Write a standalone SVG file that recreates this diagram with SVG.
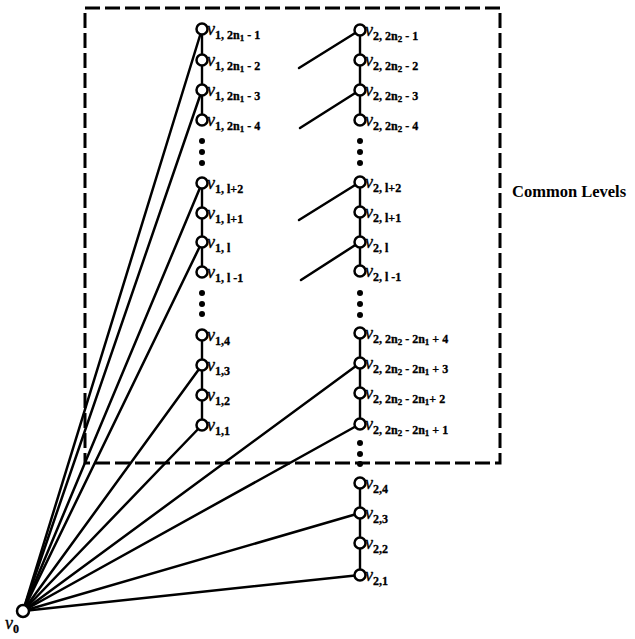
<svg xmlns="http://www.w3.org/2000/svg" width="635" height="639" viewBox="0 0 635 639">
<style>
.e{stroke:#000;stroke-width:2.5;fill:none;stroke-linecap:round}
.col{stroke:#000;stroke-width:2.4;fill:none}
.box{stroke:#000;stroke-width:3;fill:none;stroke-dasharray:15 5}
.n{fill:#fff;stroke:#000;stroke-width:2.5}
.d{fill:#000}
.v{font-family:"Liberation Serif",serif;font-style:italic;font-size:18px;fill:#000;stroke:#000;stroke-width:0.3}
.s{font-style:normal;font-weight:bold;font-size:12px}
.ss{font-style:normal;font-weight:bold;font-size:9px}
.t{font-family:"Liberation Serif",serif;font-weight:bold;font-size:16.5px;fill:#000}
</style>
<rect width="635" height="639" fill="#fff"/>
<g id="box"><rect class="box" x="85" y="8" width="415" height="455"/></g>
<text class="t" x="512" y="197">Common Levels</text>
<g id="connectors">
<line class="e" x1="23" y1="611" x2="202" y2="29"/>
<line class="e" x1="23" y1="611" x2="202" y2="90"/>
<line class="e" x1="23" y1="611" x2="202" y2="183"/>
<line class="e" x1="23" y1="611" x2="202" y2="242"/>
<line class="e" x1="23" y1="611" x2="202" y2="365"/>
<line class="e" x1="23" y1="611" x2="202" y2="425"/>
<line class="e" x1="23" y1="611" x2="360" y2="363"/>
<line class="e" x1="23" y1="611" x2="360" y2="424"/>
<line class="e" x1="23" y1="611" x2="360" y2="513"/>
<line class="e" x1="23" y1="611" x2="360" y2="575"/>
<line class="e" x1="299" y1="68" x2="360" y2="30"/>
<line class="e" x1="300" y1="128" x2="360" y2="90"/>
<line class="e" x1="299" y1="220" x2="360" y2="182"/>
<line class="e" x1="301" y1="280" x2="360" y2="242"/>
<line class="col" x1="202" y1="29" x2="202" y2="120"/>
<line class="col" x1="202" y1="183" x2="202" y2="272"/>
<line class="col" x1="202" y1="335" x2="202" y2="425"/>
<line class="col" x1="360" y1="30" x2="360" y2="120"/>
<line class="col" x1="360" y1="182" x2="360" y2="271"/>
<line class="col" x1="360" y1="333" x2="360" y2="424"/>
<line class="col" x1="360" y1="483" x2="360" y2="575"/>
</g>
<g id="dots">
<circle class="d" cx="202" cy="141" r="3"/><circle class="d" cx="202" cy="152" r="3"/><circle class="d" cx="202" cy="163" r="3"/>
<circle class="d" cx="202" cy="293" r="3"/><circle class="d" cx="202" cy="304" r="3"/><circle class="d" cx="202" cy="314" r="3"/>
<circle class="d" cx="360" cy="141" r="3"/><circle class="d" cx="360" cy="152" r="3"/><circle class="d" cx="360" cy="163" r="3"/>
<circle class="d" cx="360" cy="293" r="3"/><circle class="d" cx="360" cy="304" r="3"/><circle class="d" cx="360" cy="315" r="3"/>
<circle class="d" cx="360" cy="443" r="3"/><circle class="d" cx="360" cy="454" r="3"/><circle class="d" cx="360" cy="464" r="3"/>
</g>
<g id="v0"><circle class="n" cx="23" cy="611" r="6"/><text class="v" x="5" y="629">v<tspan class="s" dy="4">0</tspan></text></g>
<g id="v1_2n1-1"><circle class="n" cx="202" cy="29" r="5.5"/><text class="v" x="207" y="35">v<tspan class="s" dy="4">1, 2n</tspan><tspan class="ss" dy="2">1</tspan><tspan class="s" dy="-2"> - 1</tspan></text></g>
<g id="v1_2n1-2"><circle class="n" cx="202" cy="60" r="5.5"/><text class="v" x="207" y="66">v<tspan class="s" dy="4">1, 2n</tspan><tspan class="ss" dy="2">1</tspan><tspan class="s" dy="-2"> - 2</tspan></text></g>
<g id="v1_2n1-3"><circle class="n" cx="202" cy="90" r="5.5"/><text class="v" x="207" y="96">v<tspan class="s" dy="4">1, 2n</tspan><tspan class="ss" dy="2">1</tspan><tspan class="s" dy="-2"> - 3</tspan></text></g>
<g id="v1_2n1-4"><circle class="n" cx="202" cy="120" r="5.5"/><text class="v" x="207" y="126">v<tspan class="s" dy="4">1, 2n</tspan><tspan class="ss" dy="2">1</tspan><tspan class="s" dy="-2"> - 4</tspan></text></g>
<g id="v1_l+2"><circle class="n" cx="202" cy="183" r="5.5"/><text class="v" x="207" y="189">v<tspan class="s" dy="4">1, l+2</tspan></text></g>
<g id="v1_l+1"><circle class="n" cx="202" cy="213" r="5.5"/><text class="v" x="207" y="219">v<tspan class="s" dy="4">1, l+1</tspan></text></g>
<g id="v1_l"><circle class="n" cx="202" cy="242" r="5.5"/><text class="v" x="207" y="248">v<tspan class="s" dy="4">1, l</tspan></text></g>
<g id="v1_l-1"><circle class="n" cx="202" cy="272" r="5.5"/><text class="v" x="207" y="278">v<tspan class="s" dy="4">1, l -1</tspan></text></g>
<g id="v1_4"><circle class="n" cx="202" cy="335" r="5.5"/><text class="v" x="207" y="341">v<tspan class="s" dy="4">1,4</tspan></text></g>
<g id="v1_3"><circle class="n" cx="202" cy="365" r="5.5"/><text class="v" x="207" y="371">v<tspan class="s" dy="4">1,3</tspan></text></g>
<g id="v1_2"><circle class="n" cx="202" cy="395" r="5.5"/><text class="v" x="207" y="401">v<tspan class="s" dy="4">1,2</tspan></text></g>
<g id="v1_1"><circle class="n" cx="202" cy="425" r="5.5"/><text class="v" x="207" y="431">v<tspan class="s" dy="4">1,1</tspan></text></g>
<g id="v2_2n2-1"><circle class="n" cx="360" cy="30" r="5.5"/><text class="v" x="365" y="36">v<tspan class="s" dy="4">2, 2n</tspan><tspan class="ss" dy="2">2</tspan><tspan class="s" dy="-2"> - 1</tspan></text></g>
<g id="v2_2n2-2"><circle class="n" cx="360" cy="60" r="5.5"/><text class="v" x="365" y="66">v<tspan class="s" dy="4">2, 2n</tspan><tspan class="ss" dy="2">2</tspan><tspan class="s" dy="-2"> - 2</tspan></text></g>
<g id="v2_2n2-3"><circle class="n" cx="360" cy="90" r="5.5"/><text class="v" x="365" y="96">v<tspan class="s" dy="4">2, 2n</tspan><tspan class="ss" dy="2">2</tspan><tspan class="s" dy="-2"> - 3</tspan></text></g>
<g id="v2_2n2-4"><circle class="n" cx="360" cy="120" r="5.5"/><text class="v" x="365" y="126">v<tspan class="s" dy="4">2, 2n</tspan><tspan class="ss" dy="2">2</tspan><tspan class="s" dy="-2"> - 4</tspan></text></g>
<g id="v2_l+2"><circle class="n" cx="360" cy="182" r="5.5"/><text class="v" x="365" y="188">v<tspan class="s" dy="4">2, l+2</tspan></text></g>
<g id="v2_l+1"><circle class="n" cx="360" cy="212" r="5.5"/><text class="v" x="365" y="218">v<tspan class="s" dy="4">2, l+1</tspan></text></g>
<g id="v2_l"><circle class="n" cx="360" cy="242" r="5.5"/><text class="v" x="365" y="248">v<tspan class="s" dy="4">2, l</tspan></text></g>
<g id="v2_l-1"><circle class="n" cx="360" cy="271" r="5.5"/><text class="v" x="365" y="277">v<tspan class="s" dy="4">2, l -1</tspan></text></g>
<g id="v2_a4"><circle class="n" cx="360" cy="333" r="5.5"/><text class="v" x="365" y="339">v<tspan class="s" dy="4">2, 2n</tspan><tspan class="ss" dy="2">2</tspan><tspan class="s" dy="-2"> - 2n</tspan><tspan class="ss" dy="2">1</tspan><tspan class="s" dy="-2"> + 4</tspan></text></g>
<g id="v2_a3"><circle class="n" cx="360" cy="363" r="5.5"/><text class="v" x="365" y="369">v<tspan class="s" dy="4">2, 2n</tspan><tspan class="ss" dy="2">2</tspan><tspan class="s" dy="-2">  - 2n</tspan><tspan class="ss" dy="2">1</tspan><tspan class="s" dy="-2"> + 3</tspan></text></g>
<g id="v2_a2"><circle class="n" cx="360" cy="393" r="5.5"/><text class="v" x="365" y="399">v<tspan class="s" dy="4">2, 2n</tspan><tspan class="ss" dy="2">2</tspan><tspan class="s" dy="-2"> - 2n</tspan><tspan class="ss" dy="2">1</tspan><tspan class="s" dy="-2">+ 2</tspan></text></g>
<g id="v2_a1"><circle class="n" cx="360" cy="424" r="5.5"/><text class="v" x="365" y="430">v<tspan class="s" dy="4">2, 2n</tspan><tspan class="ss" dy="2">2</tspan><tspan class="s" dy="-2"> - 2n</tspan><tspan class="ss" dy="2">1</tspan><tspan class="s" dy="-2"> + 1</tspan></text></g>
<g id="v2_4"><circle class="n" cx="360" cy="483" r="5.5"/><text class="v" x="365" y="489">v<tspan class="s" dy="4">2,4</tspan></text></g>
<g id="v2_3"><circle class="n" cx="360" cy="513" r="5.5"/><text class="v" x="365" y="519">v<tspan class="s" dy="4">2,3</tspan></text></g>
<g id="v2_2"><circle class="n" cx="360" cy="543" r="5.5"/><text class="v" x="365" y="549">v<tspan class="s" dy="4">2,2</tspan></text></g>
<g id="v2_1"><circle class="n" cx="360" cy="575" r="5.5"/><text class="v" x="365" y="581">v<tspan class="s" dy="4">2,1</tspan></text></g>
</svg>
